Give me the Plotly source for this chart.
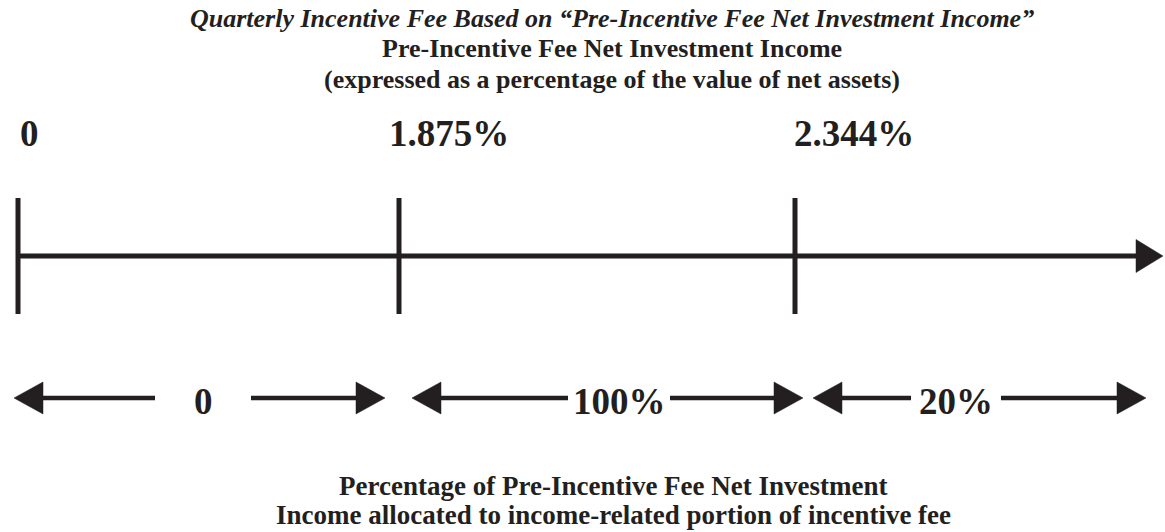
import plotly.graph_objects as go

# ---- data ----
threshold_labels = ["0", "1.875%", "2.344%"]
threshold_values = [0.0, 1.875, 2.344]
fee_share_labels = ["0", "100%", "20%"]
title_lines = [
    "<i>Quarterly Incentive Fee Based on \u201cPre-Incentive Fee Net Investment Income\u201d</i>",
    "Pre-Incentive Fee Net Investment Income",
    "(expressed as a percentage of the value of net assets)",
]
footer_lines = [
    "Percentage of Pre-Incentive Fee Net Investment",
    "Income allocated to income-related portion of incentive fee",
]

# ---- layout constants (pixel-like canvas units) ----
W, H = 1165, 532
INK = "#231f20"
FONT = "Liberation Serif"
boundary_x = [18, 399, 795]
label_dx = [0, -12, -3]
axis_y = 256
tick_top, tick_bot = 198, 314
axis_tip = 1163
head_len, head_half = 27, 16.5
band_y = 398
band_ranges = [(14, 385), (412, 803), (813, 1146)]
band_label_x = [203, 619, 956]
band_gap_half = [48, 51, 45]
bhead_len, bhead_half = 29, 16

fig = go.Figure()

def line(xs, ys, width):
    fig.add_trace(go.Scatter(x=xs, y=ys, mode="lines",
                             line=dict(color=INK, width=width),
                             hoverinfo="skip", showlegend=False))

def tri(xs, ys):
    fig.add_trace(go.Scatter(x=xs, y=ys, mode="lines", fill="toself",
                             fillcolor=INK, line=dict(color=INK, width=0.5),
                             hoverinfo="skip", showlegend=False))

# main axis
line([boundary_x[0], axis_tip - head_len + 1], [axis_y, axis_y], 5)
tri([axis_tip - head_len, axis_tip, axis_tip - head_len, axis_tip - head_len],
    [axis_y - head_half, axis_y, axis_y + head_half, axis_y - head_half])
# ticks
tx, ty = [], []
for bx in boundary_x:
    tx += [bx, bx, None]
    ty += [tick_top, tick_bot, None]
line(tx, ty, 5)

# threshold labels
for bx, dx, lab in zip(boundary_x, label_dx, threshold_labels):
    fig.add_annotation(x=bx + dx, y=133, text=f"<b>{lab}</b>",
                       xanchor="left", yanchor="middle", showarrow=False,
                       font=dict(family=FONT, size=37, color=INK))

# bottom double arrows with labels
for (x0, x1), lx, gh, lab in zip(band_ranges, band_label_x, band_gap_half, fee_share_labels):
    line([x0 + bhead_len - 1, lx - gh, None, lx + gh, x1 - bhead_len + 1],
         [band_y, band_y, None, band_y, band_y], 4.5)
    tri([x0, x0 + bhead_len, x0 + bhead_len, x0],
        [band_y, band_y - bhead_half, band_y + bhead_half, band_y])
    tri([x1, x1 - bhead_len, x1 - bhead_len, x1],
        [band_y, band_y - bhead_half, band_y + bhead_half, band_y])
    fig.add_annotation(x=lx, y=401, text=f"<b>{lab}</b>", xanchor="center",
                       yanchor="middle", showarrow=False,
                       font=dict(family=FONT, size=37, color=INK))

# titles
for t, yy in zip(title_lines, [18, 48, 79]):
    fig.add_annotation(x=612, y=yy, text=f"<b>{t}</b>", xanchor="center",
                       yanchor="middle", showarrow=False,
                       font=dict(family=FONT, size=26, color=INK))
for t, yy in zip(footer_lines, [486, 515]):
    fig.add_annotation(x=613, y=yy, text=f"<b>{t}</b>", xanchor="center",
                       yanchor="middle", showarrow=False,
                       font=dict(family=FONT, size=27, color=INK))

fig.update_layout(
    width=W, height=H, margin=dict(l=0, r=0, t=0, b=0),
    paper_bgcolor="white", plot_bgcolor="white",
    xaxis=dict(range=[0, W], visible=False, fixedrange=True),
    yaxis=dict(range=[H, 0], visible=False, fixedrange=True),
)
fig.write_html("out.html", config={"displayModeBar": False},
               post_script="document.body.style.margin='0px';document.body.style.overflow='hidden';")
